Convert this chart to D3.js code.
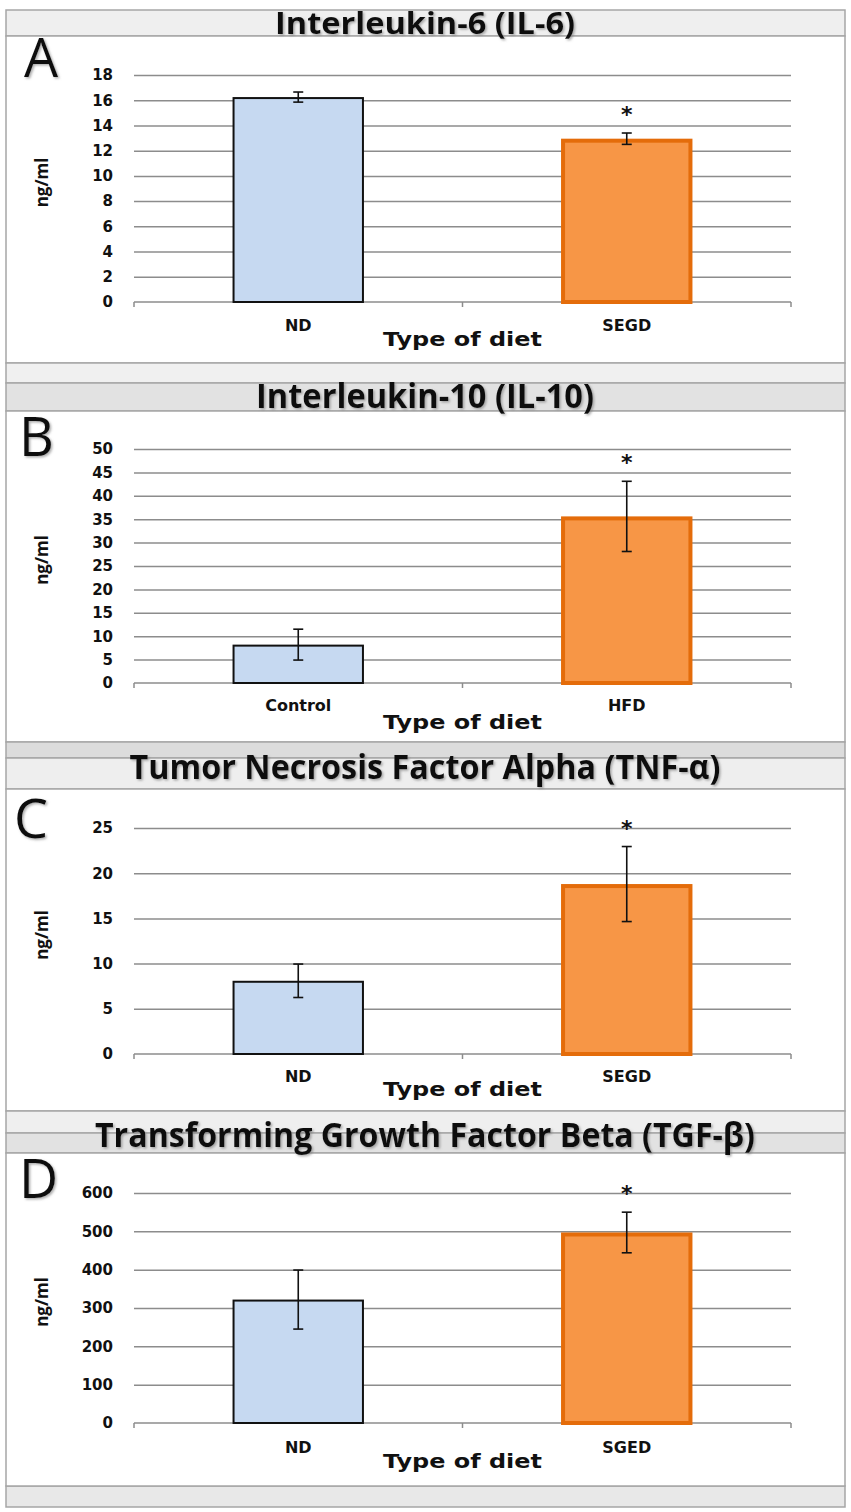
<!DOCTYPE html>
<html>
<head>
<meta charset="utf-8">
<script src="https://cdn.jsdelivr.net/npm/d3@7.9.0/dist/d3.min.js"></script>
<style>
  body { margin: 0; background: #fff; }
  svg { display: block; }
</style>
</head>
<body>
<svg id="chart" width="851" height="1512"></svg>
<script>
// data
const letters = ['A', 'B', 'C', 'D'];
const titles = [
  'Interleukin-6 (IL-6)',
  'Interleukin-10 (IL-10)',
  'Tumor Necrosis Factor Alpha (TNF-α)',
  'Transforming Growth Factor Beta (TGF-β)'
];
const categories = [['ND', 'SEGD'], ['Control', 'HFD'], ['ND', 'SEGD'], ['ND', 'SGED']];
const means = [[16.25, 12.95], [8.2, 35.6], [8.1, 18.8], [322, 497]];
const errors = [[0.4, 0.45], [3.3, 7.5], [1.85, 4.15], [77, 53]];
const starred = [[false, true], [false, true], [false, true], [false, true]];
const yMax = [18, 50, 25, 600];
const yStep = [2, 5, 5, 100];
const xTitle = 'Type of diet';
const yTitle = 'ng/ml';

// layout of each panel (pixels)
const layout = [
  { gapTop: null, bandTop: 10,   boxTop: 36,   boxBottom: 363,  gapFill: null,      bandFill: '#efefef', yTop: 75,   y0: 302,  titleBase: 34,   titleSize: 31, letterBase: 77,   catBase: 331,  xtBase: 346 },
  { gapTop: 363,  bandTop: 383,  boxTop: 411,  boxBottom: 742,  gapFill: '#f0f0f0', bandFill: '#e2e2e2', yTop: 449,  y0: 683,  titleBase: 408,  titleSize: 34, letterBase: 456,  catBase: 711,  xtBase: 729 },
  { gapTop: 742,  bandTop: 758,  boxTop: 789,  boxBottom: 1111, gapFill: '#dcdcdc', bandFill: '#eeeeee', yTop: 828,  y0: 1054, titleBase: 779,  titleSize: 34, letterBase: 838,  catBase: 1082, xtBase: 1096 },
  { gapTop: 1111, bandTop: 1133, boxTop: 1153, boxBottom: 1486, gapFill: '#efefef', bandFill: '#e2e2e2', yTop: 1193, y0: 1423, titleBase: 1147, titleSize: 34, letterBase: 1198, catBase: 1453, xtBase: 1468 }
];
const titleWidths = [300, 338, 591, 660];
const left = 6, right = 845, plotL = 134, plotR = 791;

const svg = d3.select('#chart');

const defs = svg.append('defs');
const shadow = defs.append('filter').attr('id', 'shadow')
  .attr('x', '-10%').attr('y', '-10%').attr('width', '120%').attr('height', '130%');
shadow.append('feDropShadow')
  .attr('dx', 1.5).attr('dy', 1.5).attr('stdDeviation', 1)
  .attr('flood-color', '#777').attr('flood-opacity', 0.6);

// bottom strip
svg.append('rect')
  .attr('x', left).attr('y', 1486).attr('width', right - left).attr('height', 21)
  .attr('fill', '#e8e8e8').attr('stroke', '#a6a6a6').attr('stroke-width', 1.5);

layout.forEach((L, i) => {
  const g = svg.append('g');

  if (L.gapTop !== null) {
    g.append('rect')
      .attr('x', left).attr('y', L.gapTop).attr('width', right - left).attr('height', L.bandTop - L.gapTop)
      .attr('fill', L.gapFill).attr('stroke', '#a6a6a6').attr('stroke-width', 1.5);
  }
  g.append('rect')
    .attr('x', left).attr('y', L.bandTop).attr('width', right - left).attr('height', L.boxTop - L.bandTop)
    .attr('fill', L.bandFill).attr('stroke', '#a6a6a6').attr('stroke-width', 1.5);
  g.append('rect')
    .attr('x', left).attr('y', L.boxTop).attr('width', right - left).attr('height', L.boxBottom - L.boxTop)
    .attr('fill', '#fff').attr('stroke', '#a6a6a6').attr('stroke-width', 1.5);

  const y = d3.scaleLinear().domain([0, yMax[i]]).range([L.y0, L.yTop]);
  const x = d3.scaleBand().domain(categories[i]).range([plotL, plotR]).padding(0);
  const ticks = d3.range(0, yMax[i] + yStep[i] / 2, yStep[i]);

  // gridlines
  g.append('g')
    .attr('transform', `translate(${plotL},0)`)
    .call(d3.axisLeft(y).tickValues(ticks.slice(1)).tickSize(-(plotR - plotL)).tickFormat(''))
    .call(s => s.select('.domain').remove())
    .call(s => s.selectAll('line').attr('stroke', '#8c8c8c').attr('stroke-width', 1.5));

  // y tick labels
  g.append('g')
    .attr('transform', `translate(${plotL - 21},0)`)
    .call(d3.axisLeft(y).tickValues(ticks).tickSize(0).tickPadding(0))
    .call(s => s.select('.domain').remove())
    .call(s => s.selectAll('text')
      .attr('font-family', 'DejaVu Sans').attr('font-weight', 'bold')
      .attr('font-size', 15).attr('fill', '#111'));

  // x axis line and tick marks at category boundaries
  g.append('line')
    .attr('x1', plotL).attr('x2', plotR).attr('y1', y(0)).attr('y2', y(0))
    .attr('stroke', '#8c8c8c').attr('stroke-width', 1.5);
  const bounds = categories[i].map(c => x(c)).concat([x.range()[1]]);
  g.selectAll('.xtick').data(bounds).join('line')
    .attr('x1', d => d).attr('x2', d => d)
    .attr('y1', y(0)).attr('y2', y(0) + 5)
    .attr('stroke', '#8c8c8c').attr('stroke-width', 1.5);

  const barW = x.bandwidth() * 0.4;
  const cx = c => x(c) + x.bandwidth() / 2;
  const rows = categories[i].map((c, j) => ({ c, j, v: means[i][j], e: errors[i][j], star: starred[i][j] }));

  // bars
  g.selectAll('.bar').data(rows).join('rect')
    .attr('x', d => cx(d.c) - barW / 2 + (d.j ? 2 : 1))
    .attr('width', d => barW - (d.j ? 4 : 2))
    .attr('y', d => y(d.v) + (d.j ? 2 : 1))
    .attr('height', d => y(0) - y(d.v) - (d.j ? 2 : 1))
    .attr('fill', d => d.j ? '#f79646' : '#c6d9f1')
    .attr('stroke', d => d.j ? '#e46c0a' : '#111')
    .attr('stroke-width', d => d.j ? 4 : 2);

  // error bars
  const eb = g.selectAll('.err').data(rows).join('g');
  eb.append('line')
    .attr('x1', d => cx(d.c)).attr('x2', d => cx(d.c))
    .attr('y1', d => y(d.v + d.e)).attr('y2', d => y(d.v - d.e))
    .attr('stroke', '#111').attr('stroke-width', 1.6);
  eb.selectAll('.cap').data(d => [d.v + d.e, d.v - d.e].map(v => ({ c: d.c, v }))).join('line')
    .attr('x1', d => cx(d.c) - 5).attr('x2', d => cx(d.c) + 5)
    .attr('y1', d => y(d.v)).attr('y2', d => y(d.v))
    .attr('stroke', '#111').attr('stroke-width', 1.6);

  // significance stars
  g.selectAll('.star').data(rows.filter(d => d.star)).join('text')
    .attr('x', d => cx(d.c)).attr('y', d => y(d.v + d.e) - 11)
    .attr('text-anchor', 'middle')
    .attr('font-family', 'DejaVu Sans').attr('font-weight', 'bold').attr('font-size', 22)
    .attr('fill', '#111').text('*');

  // category labels
  g.selectAll('.cat').data(rows).join('text')
    .attr('x', d => cx(d.c)).attr('y', L.catBase)
    .attr('text-anchor', 'middle')
    .attr('font-family', 'DejaVu Sans').attr('font-weight', 'bold').attr('font-size', 16)
    .attr('fill', '#111').text(d => d.c);

  // axis titles
  g.append('text')
    .attr('x', (plotL + plotR) / 2).attr('y', L.xtBase)
    .attr('text-anchor', 'middle')
    .attr('font-family', 'DejaVu Sans').attr('font-weight', 'bold').attr('font-size', 20)
    .attr('textLength', 159).attr('lengthAdjust', 'spacingAndGlyphs')
    .attr('fill', '#111').text(xTitle);
  g.append('text')
    .attr('transform', `translate(48,${(L.y0 + L.yTop) / 2 - 6}) rotate(-90)`)
    .attr('text-anchor', 'middle')
    .attr('font-family', 'Open Sans').attr('font-weight', 'bold').attr('font-size', 17)
    .attr('fill', '#111').text(yTitle);

  // panel title and letter
  g.append('text')
    .attr('x', 425).attr('y', L.titleBase)
    .attr('text-anchor', 'middle')
    .attr('font-family', 'Open Sans').attr('font-weight', 'bold').attr('font-size', L.titleSize)
    .attr('textLength', titleWidths[i]).attr('lengthAdjust', 'spacingAndGlyphs')
    .attr('fill', '#111').attr('filter', 'url(#shadow)')
    .text(titles[i]);
  g.append('text')
    .attr('x', i === 2 ? 14 : (i === 0 ? 24 : 19)).attr('y', L.letterBase)
    .attr('font-family', 'Open Sans').attr('font-size', 54)
    .attr('fill', '#111').attr('filter', 'url(#shadow)')
    .text(letters[i]);
});
</script>
</body>
</html>
